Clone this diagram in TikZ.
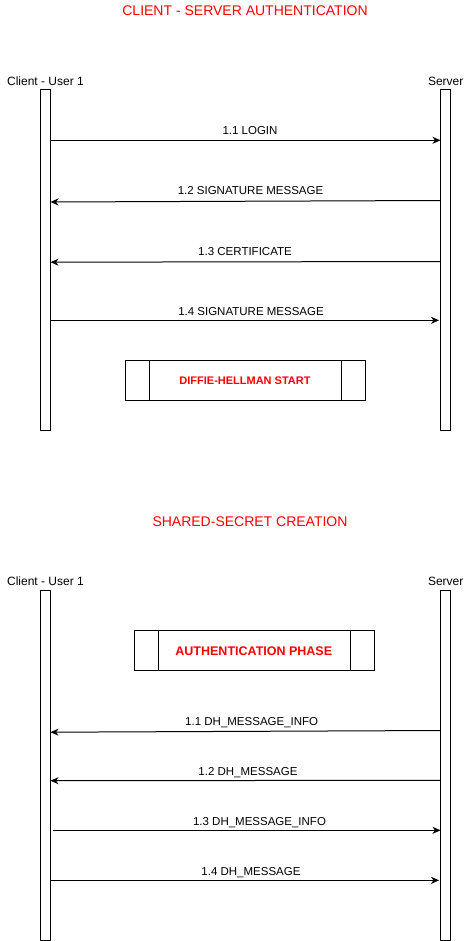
\documentclass[tikz,border=0pt]{standalone}
\usepackage{fontspec}
\setmainfont{Liberation Sans}
\usetikzlibrary{arrows.meta}

\definecolor{titlered}{RGB}{255,0,0}

\tikzset{
  lifebar/.style={draw, line width=1pt, fill=white, inner sep=0pt, outer sep=0pt,
    minimum width=10pt, anchor=north},
  actor/.style={font=\fontsize{12}{14}\selectfont, anchor=base, inner sep=0pt},
  heading/.style={font=\fontsize{14}{16}\selectfont, text=titlered, anchor=base, inner sep=0pt},
  msglabel/.style={font=\fontsize{11.5}{13}\selectfont, anchor=base, inner sep=0pt},
  msg/.style={line width=1pt, -{Stealth[length=8pt,width=7pt,inset=2.5pt]}},
  phasebox/.style={draw, line width=1pt, inner sep=0pt, outer sep=0pt,
    minimum width=240pt, minimum height=40pt},
  phasetext/.style={font=\bfseries\fontsize{11}{13}\selectfont, text=titlered,
    anchor=base, inner sep=0pt}
}

\begin{document}
\begin{tikzpicture}[x=1pt, y=-1pt]
  \useasboundingbox (0,0) rectangle (466,941);

  % ---------- Client - server authentication ----------
  \node[heading] (title1) at (245,16) {CLIENT - SERVER AUTHENTICATION};
  \node[actor] (client1) at (45.5,85.3) {Client - User 1};
  \node[actor] (server1) at (445.7,85.3) {Server};
  \node[lifebar, minimum height=340pt] (c1) at (45.5,90) {};
  \node[lifebar, minimum height=340pt] (s1) at (445.5,90) {};

  \node[msglabel] (l11) at (250,135) {1.1 LOGIN};
  \draw[msg] (c1.east |- 0,140.3) -- (s1.west |- 0,140.3);

  \node[msglabel] (l12) at (250.5,195) {1.2 SIGNATURE MESSAGE};
  \draw[msg] (s1.west |- 0,200.5) -- (c1.east |- 0,202);

  \node[msglabel] (l13) at (245,255) {1.3 CERTIFICATE};
  \draw[msg] (s1.west |- 0,261.5) -- (c1.east |- 0,262.2);

  \node[msglabel] (l14) at (251,315) {1.4 SIGNATURE MESSAGE};
  \draw[msg] (c1.east |- 0,320.3) -- ([xshift=-1.5pt]s1.west |- 0,320.3);

  \node[phasebox] (dh) at (245.5,380.3) {};
  \draw[line width=1pt] ([xshift=24pt]dh.north west) -- ([xshift=24pt]dh.south west);
  \draw[line width=1pt] ([xshift=-24pt]dh.north east) -- ([xshift=-24pt]dh.south east);
  \node[phasetext] (dhtext) at (245,384.5) {DIFFIE-HELLMAN START};

  % ---------- Shared-secret creation ----------
  \node[heading] (title2) at (250,526.7) {SHARED-SECRET CREATION};
  \node[actor] (client2) at (45.5,585.3) {Client - User 1};
  \node[actor] (server2) at (445.7,585.3) {Server};
  \node[lifebar, minimum height=350pt] (c2) at (45.5,590) {};
  \node[lifebar, minimum height=350pt] (s2) at (445.5,590) {};

  \node[phasebox] (auth) at (254.5,650.3) {};
  \draw[line width=1pt] ([xshift=24pt]auth.north west) -- ([xshift=24pt]auth.south west);
  \draw[line width=1pt] ([xshift=-24pt]auth.north east) -- ([xshift=-24pt]auth.south east);
  \node[phasetext, font=\bfseries\fontsize{12.5}{14}\selectfont] (authtext) at (253.8,655) {AUTHENTICATION PHASE};

  \node[msglabel] (l21) at (251.7,725) {1.1 DH\_MESSAGE\_INFO};
  \draw[msg] (s2.west |- 0,730.5) -- (c2.east |- 0,732.2);

  \node[msglabel] (l22) at (248,775) {1.2 DH\_MESSAGE};
  \draw[msg] (s2.west |- 0,780.3) -- (c2.east |- 0,780.7);

  \node[msglabel] (l23) at (259.5,825) {1.3 DH\_MESSAGE\_INFO};
  \draw[msg] ([xshift=2.5pt]c2.east |- 0,830.3) -- (s2.west |- 0,830.3);

  \node[msglabel] (l24) at (251,875) {1.4 DH\_MESSAGE};
  \draw[msg] (c2.east |- 0,880.3) -- ([xshift=-1.5pt]s2.west |- 0,880.3);
\end{tikzpicture}
\end{document}
